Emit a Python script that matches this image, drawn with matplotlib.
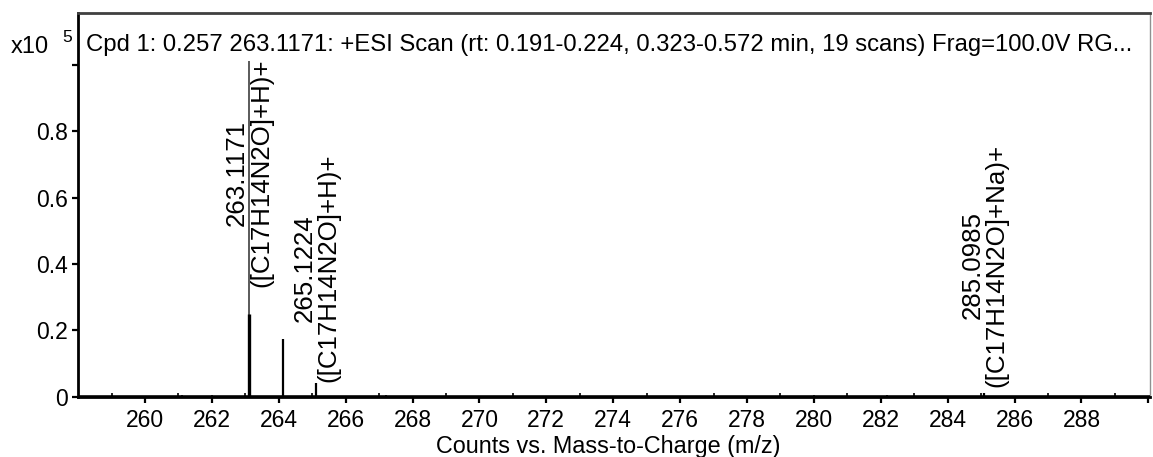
import matplotlib
matplotlib.use("Agg")
import matplotlib.pyplot as plt
import numpy as np

plt.rcParams["font.family"] = ["Liberation Sans", "DejaVu Sans"]

# Centroid peaks (m/z, relative counts x10^5)
peak_mz = [263.1171, 264.1204, 265.1224, 285.0985]
peak_counts = [1.01, 0.175, 0.042, 0.012]
# Profile apex of the base peak as drawn by the trace
base_profile_top = 0.25

# Low-level baseline noise
noise_mz = [258.3, 259.0, 261.1, 262.0, 262.6, 263.4, 263.7, 264.5, 265.6, 266.0,
            267.2, 267.4, 268.0, 269.1, 270.3, 280.0, 281.0, 282.2, 283.1, 284.0,
            286.0, 287.1, 288.2, 289.0]
noise_counts = [0.003, 0.006, 0.005, 0.006, 0.003, 0.004, 0.003, 0.003, 0.003, 0.004,
                0.005, 0.004, 0.004, 0.003, 0.002, 0.005, 0.004, 0.007, 0.004, 0.003,
                0.004, 0.003, 0.003, 0.003]

# Annotations: (m/z, label text, bottom of label in data units)
label_mz = [263.1171, 265.1224, 285.0985]
label_text = ["263.1171\n([C17H14N2O]+H)+",
              "265.1224\n([C17H14N2O]+H)+",
              "285.0985\n([C17H14N2O]+Na)+"]
label_bottom = [0.33, 0.045, 0.03]

x_ticks = list(range(260, 291, 2))
x_ticklabels = [str(t) for t in range(260, 289, 2)] + [""]
y_ticks = [0, 0.2, 0.4, 0.6, 0.8, 1.0]
y_ticklabels = ["0", "0.2", "0.4", "0.6", "0.8", ""]

title = ("Cpd 1: 0.257 263.1171: +ESI Scan (rt: 0.191-0.224, 0.323-0.572 min, "
         "19 scans) Frag=100.0V RG...")

fig = plt.figure(figsize=(11.53, 4.57), dpi=100)
ax = fig.add_axes([0.0677, 0.1313, 0.9297, 0.8403])

# Baseline trace with the small noise bumps
ax.axhline(0, color="black", lw=2.6, zorder=3)
ax.vlines(noise_mz, 0, noise_counts, color="black", lw=1.2, zorder=3)

# Base peak: thin centroid to full height, heavier profile core
ax.vlines(peak_mz[0], 0, peak_counts[0], color="#5a5a5a", lw=1.4, zorder=4)
ax.vlines(peak_mz[0], 0, base_profile_top, color="black", lw=2.4, zorder=5)
ax.vlines(peak_mz[1:], 0, peak_counts[1:], color="black", lw=1.6, zorder=4)

for mz, txt, yb in zip(label_mz, label_text, label_bottom):
    ax.text(mz, yb, txt, rotation=90, ha="center", va="bottom",
            multialignment="center", fontsize=18.6, linespacing=1.0, zorder=6)

ax.set_xlim(258, 290.05)
ax.set_ylim(0, 1.155)
ax.set_xticks(x_ticks)
ax.set_xticklabels(x_ticklabels)
ax.set_xticks(range(259, 290, 2), minor=True)
ax.set_yticks(y_ticks)
ax.set_yticklabels(y_ticklabels)

ax.tick_params(axis="x", which="major", direction="out", length=4, width=1.6,
               labelsize=16.5, pad=5)
ax.tick_params(axis="x", which="minor", direction="in", length=3, width=1.2)
ax.tick_params(axis="y", which="major", direction="out", length=4, width=1.6,
               labelsize=16.5, pad=3)

for side in ("left", "bottom"):
    ax.spines[side].set_linewidth(2.0)
    ax.spines[side].set_color("black")
ax.spines["top"].set_linewidth(2.0)
ax.spines["top"].set_color("#404040")
ax.spines["right"].set_linewidth(1.0)
ax.spines["right"].set_color("#909090")

ax.text(0.007, 0.917, title, transform=ax.transAxes, ha="left", va="center",
        fontsize=17.2)

fig.text(11 / 1153, 1 - 47 / 457, "x10", ha="left", va="center", fontsize=17)
fig.text(62 / 1153, 1 - 38 / 457, "5", ha="left", va="center", fontsize=12.5)

ax.set_xlabel("Counts vs. Mass-to-Charge (m/z)", fontsize=16.8)
ax.xaxis.set_label_coords((608 - 78) / 1072, -(447 - 397) / 384)
ax.xaxis.label.set_va("center")

fig.savefig("out.png", dpi=100)
